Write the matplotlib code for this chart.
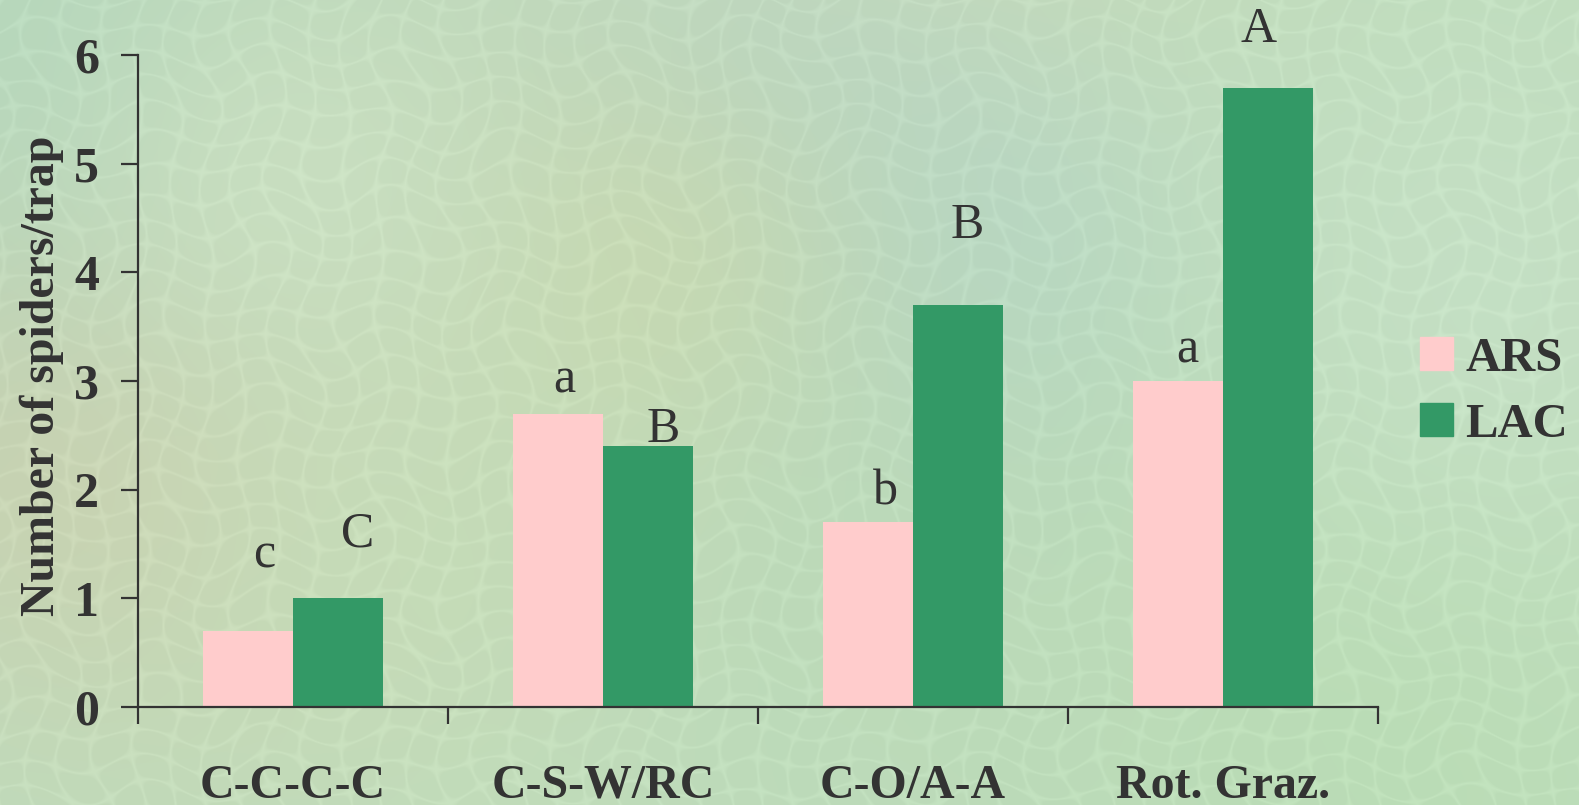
import numpy as np
import matplotlib
matplotlib.use("Agg")
import matplotlib.pyplot as plt
from matplotlib.patches import Rectangle

# Data
categories = ["C-C-C-C", "C-S-W/RC", "C-O/A-A", "Rot. Graz."]
ars_values = [0.7, 2.7, 1.7, 3.0]
lac_values = [1.0, 2.4, 3.7, 5.7]
ars_letters = ["c", "a", "b", "a"]
lac_letters = ["C", "B", "B", "A"]
y_ticks = [0, 1, 2, 3, 4, 5, 6]
series_names = ["ARS", "LAC"]

ARS_COLOR = "#ffcccc"
LAC_COLOR = "#339966"
INK = "#333333"
SERIF = "Liberation Serif"

W, H, DPI = 1579, 805, 100
fig = plt.figure(figsize=(W / DPI, H / DPI), dpi=DPI)

# Soft mottled paper backdrop
yy, xx = np.mgrid[0:H, 0:W].astype(float)
base = np.array([192, 222, 190], float) / 255.0
img = np.ones((H, W, 3)) * base
blobs = [  # (cx, cy, radius, rgb)
    (820, 0, 260, (214, 222, 178)),
    (700, 170, 230, (178, 214, 206)),
    (950, 330, 200, (176, 212, 204)),
    (120, 380, 230, (212, 204, 170)),
    (620, 300, 200, (206, 218, 172)),
    (60, 60, 250, (180, 216, 190)),
    (1350, 650, 260, (186, 222, 180)),
    (420, 560, 200, (200, 222, 186)),
    (1480, 300, 220, (200, 226, 200)),
    (300, 180, 160, (204, 226, 196)),
    (900, 620, 220, (190, 220, 186)),
]
for cx, cy, r, col in blobs:
    w = np.exp(-(((xx - cx) ** 2 + (yy - cy) ** 2) / (2 * r ** 2)))[..., None]
    img = img * (1 - 0.8 * w) + 0.8 * w * (np.array(col) / 255.0)
# fine cellular relief
u = xx + 9 * np.sin(yy / 23.0) + 6 * np.sin((xx + yy) / 31.0)
v = yy + 8 * np.sin(xx / 19.0) + 5 * np.sin((xx - yy) / 27.0)
cell = np.abs(np.sin(u / 11.0)) * np.abs(np.sin(v / 9.0))
relief = 0.03 * np.clip(1 - cell * 5, 0, 1) - 0.008
img = np.clip(img + relief[..., None], 0, 1)

bg = fig.add_axes([0, 0, 1, 1], zorder=-10)
bg.imshow(img, aspect="auto", extent=(0, 1, 0, 1), interpolation="bilinear")
bg.axis("off")

ax = fig.add_axes([138 / W, 98 / H, (1378 - 138) / W, (707 - 55) / H])
ax.patch.set_alpha(0)

x = np.arange(1, len(categories) + 1)
bw = 0.289
ax.bar(x - bw / 2, ars_values, bw, color=ARS_COLOR, zorder=2)
ax.bar(x + bw / 2, lac_values, bw, color=LAC_COLOR, zorder=2)

# significance letters above the bars
letter_font = dict(family=SERIF, fontsize=36, color=INK, ha="center", va="baseline")
ars_dy = [0.58, 0.19, 0.16, 0.17]
ars_dx = [0.05, 0.02, 0.055, 0.03]
lac_dy = [0.48, 0.04, 0.62, 0.42]
lac_dx = [0.065, 0.05, 0.03, -0.03]
for xi, v, t, dx, dy in zip(x, ars_values, ars_letters, ars_dx, ars_dy):
    ax.text(xi - bw / 2 + dx, v + dy, t, clip_on=False, **letter_font)
for xi, v, t, dx, dy in zip(x, lac_values, lac_letters, lac_dx, lac_dy):
    ax.text(xi + bw / 2 + dx, v + dy, t, clip_on=False, **letter_font)

ax.set_xlim(0.5, len(categories) + 0.5)
ax.set_ylim(0, 6)
for s in ("top", "right"):
    ax.spines[s].set_visible(False)
for s in ("left", "bottom"):
    ax.spines[s].set_linewidth(1.6)
    ax.spines[s].set_color(INK)

ax.set_yticks(y_ticks)
ax.set_yticklabels([str(t) for t in y_ticks], family=SERIF,
                   fontweight="bold", fontsize=36, color=INK)
ax.tick_params(axis="y", direction="out", length=12, width=1.6, color=INK, pad=16)

ax.set_xticks(np.arange(0.5, len(categories) + 1, 1.0))
ax.set_xticklabels([])
ax.tick_params(axis="x", which="major", direction="out", length=12, width=1.6, color=INK)
ax.set_xticks(x, minor=True)
ax.set_xticklabels(categories, minor=True, family=SERIF,
                   fontweight="bold", fontsize=34.5, color=INK)
ax.tick_params(axis="x", which="minor", length=0, pad=41)

fig.text(42 / W, 1 - 376 / H, "Number of spiders/trap", family=SERIF,
         fontweight="bold", fontsize=34.5, color=INK, rotation=90,
         ha="center", va="center")

# legend drawn as figure-level swatches and labels
for i, (name, col) in enumerate(zip(series_names, [ARS_COLOR, LAC_COLOR])):
    top = 337 + 66 * i
    fig.patches.append(Rectangle((1420 / W, 1 - (top + 33) / H), 33 / W, 33 / H,
                                 transform=fig.transFigure, color=col))
    fig.text(1465 / W, 1 - (top + 34) / H, name, family=SERIF, fontweight="bold",
             fontsize=35, color=INK, ha="left", va="baseline")

fig.savefig("out.png", dpi=DPI)
